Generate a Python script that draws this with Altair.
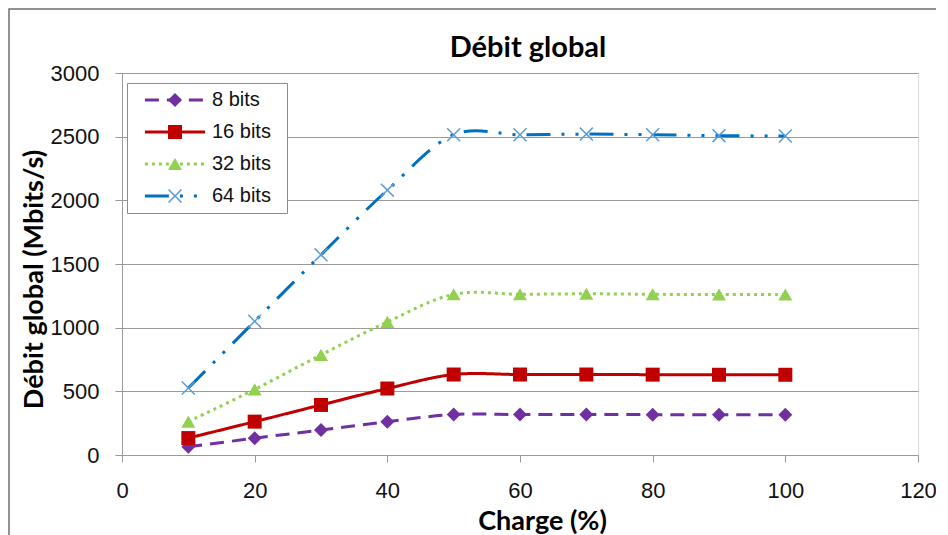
import altair as alt
import pandas as pd

# ---- data ----
charge = [10, 20, 30, 40, 50, 60, 70, 80, 90, 100]
series_names = ["8 bits", "16 bits", "32 bits", "64 bits"]
debit_8 = [64, 132, 196, 262, 318, 318, 318, 317, 316, 316]
debit_16 = [133, 262, 393, 522, 632, 632, 632, 631, 630, 630]
debit_32 = [262, 515, 786, 1045, 1262, 1262, 1266, 1262, 1260, 1260]
debit_64 = [526, 1050, 1572, 2080, 2515, 2515, 2520, 2515, 2508, 2505]

x_ticks = [0, 20, 40, 60, 80, 100, 120]
y_ticks = [0, 500, 1000, 1500, 2000, 2500, 3000]

line_colors = ["#7030A0", "#C00000", "#92D050", "#0070C0"]
marker_colors = ["#7030A0", "#C00000", "#92D050", "#5B9BD5"]
dashes = [[14, 8], [1, 0], [3, 4], [24, 11, 3, 11, 3, 11]]
X_PATH = ("M0,-0.15L0.85,-1L1,-0.85L0.15,0L1,0.85L0.85,1L0,0.15"
          "L-0.85,1L-1,0.85L-0.15,0L-1,-0.85L-0.85,-1Z")
shapes = ["diamond", "square", "triangle-up", X_PATH]
LINE_SYMBOL = "M-4.3,0H4.3"
NBSP = "\u00a0"

rows = []
for i, (name, vals) in enumerate(zip(series_names, [debit_8, debit_16, debit_32, debit_64])):
    for c, v in zip(charge, vals):
        rows.append({"charge": c, "debit": v, "series": name, "idx": str(i + 1)})
df = pd.DataFrame(rows)

GRID = "#9a9a9a"
TXT = "#111111"

common_legend = dict(
    orient="none", legendX=5, legendY=10, padding=7, direction="vertical",
    symbolSize=196, symbolOffset=31, labelOffset=27,
    labelFont="Liberation Sans", labelFontSize=20, labelColor=TXT,
    rowPadding=12,
)

x_enc = alt.X(
    "charge:Q",
    scale=alt.Scale(domain=[0, 120], nice=False),
    axis=alt.Axis(
        values=x_ticks, grid=False, tickSize=7, tickColor=GRID, domainColor=GRID,
        labelPadding=18, labelFont="Liberation Sans", labelFontSize=22,
        labelColor=TXT, labelFlush=False, labelOverlap=False,
        title="Charge (%)", titleFont="Lato", titleFontSize=27,
        titleFontWeight="bold", titleColor="black", titleX=420, titleY=74,
        titleBaseline="alphabetic", titleAlign="center",
    ),
)
y_enc = alt.Y(
    "debit:Q",
    scale=alt.Scale(domain=[0, 3000], nice=False),
    axis=alt.Axis(
        values=y_ticks, format="d", grid=True, gridColor=GRID, gridWidth=1.2,
        tickSize=7, tickColor=GRID, domainColor=GRID,
        labelPadding=16, labelFont="Liberation Sans", labelFontSize=22,
        labelColor=TXT, labelOverlap=False,
        title="Débit global (Mbits/s)", titleFont="Lato", titleFontSize=27,
        titleFontWeight="bold", titleColor="black", titleAngle=270,
        titleX=-80, titleY=206, titleBaseline="alphabetic", titleAlign="center",
    ),
)

frame = alt.Chart(alt.Data(values=[{"f": 1}])).mark_rect(
    fill="transparent", stroke="#6f6f6f", strokeWidth=1.5
).encode(
    x=alt.value(-113), x2=alt.value(850), y=alt.value(-64), y2=alt.value(490)
)

box_legend = dict(
    symbolType=LINE_SYMBOL, symbolStrokeWidth=3,
    strokeColor="#8c8c8c", fillColor="white",
    title=NBSP, titleOrient="right", titlePadding=9, titleFontSize=2,
    labelExpr="datum.label", **common_legend
)

lines = alt.Chart(df).mark_line(strokeWidth=3, interpolate="cardinal").encode(
    x=x_enc,
    y=y_enc,
    stroke=alt.Stroke(
        "series:N",
        scale=alt.Scale(domain=series_names, range=line_colors),
        legend=alt.Legend(**box_legend),
    ),
    strokeDash=alt.StrokeDash(
        "series:N",
        scale=alt.Scale(domain=series_names, range=dashes),
        legend=alt.Legend(**box_legend),
    ),
)

marker_legend = dict(labelExpr="' '", title=None, **common_legend)

points = alt.Chart(df).mark_point(filled=True, size=196, opacity=1).encode(
    x="charge:Q",
    y="debit:Q",
    fill=alt.Fill(
        "idx:N",
        scale=alt.Scale(range=marker_colors),
        legend=alt.Legend(**marker_legend),
    ),
    shape=alt.Shape(
        "idx:N",
        scale=alt.Scale(range=shapes),
        legend=alt.Legend(**marker_legend),
    ),
)

chart = alt.layer(frame, lines, points).properties(
    width=796,
    height=382,
    autosize=alt.AutoSizeParams(type="none"),
    padding={"left": 114, "top": 65, "right": 18, "bottom": 80},
    title=alt.TitleParams(
        "Débit global", font="Lato", fontSize=29, fontWeight="bold",
        anchor="middle", offset=10, dy=65, dx=8, color="black",
    ),
).configure_view(stroke=GRID, strokeWidth=1.5).configure(background="white")

chart.save("out.html", embed_options={"renderer": "svg", "actions": False})
